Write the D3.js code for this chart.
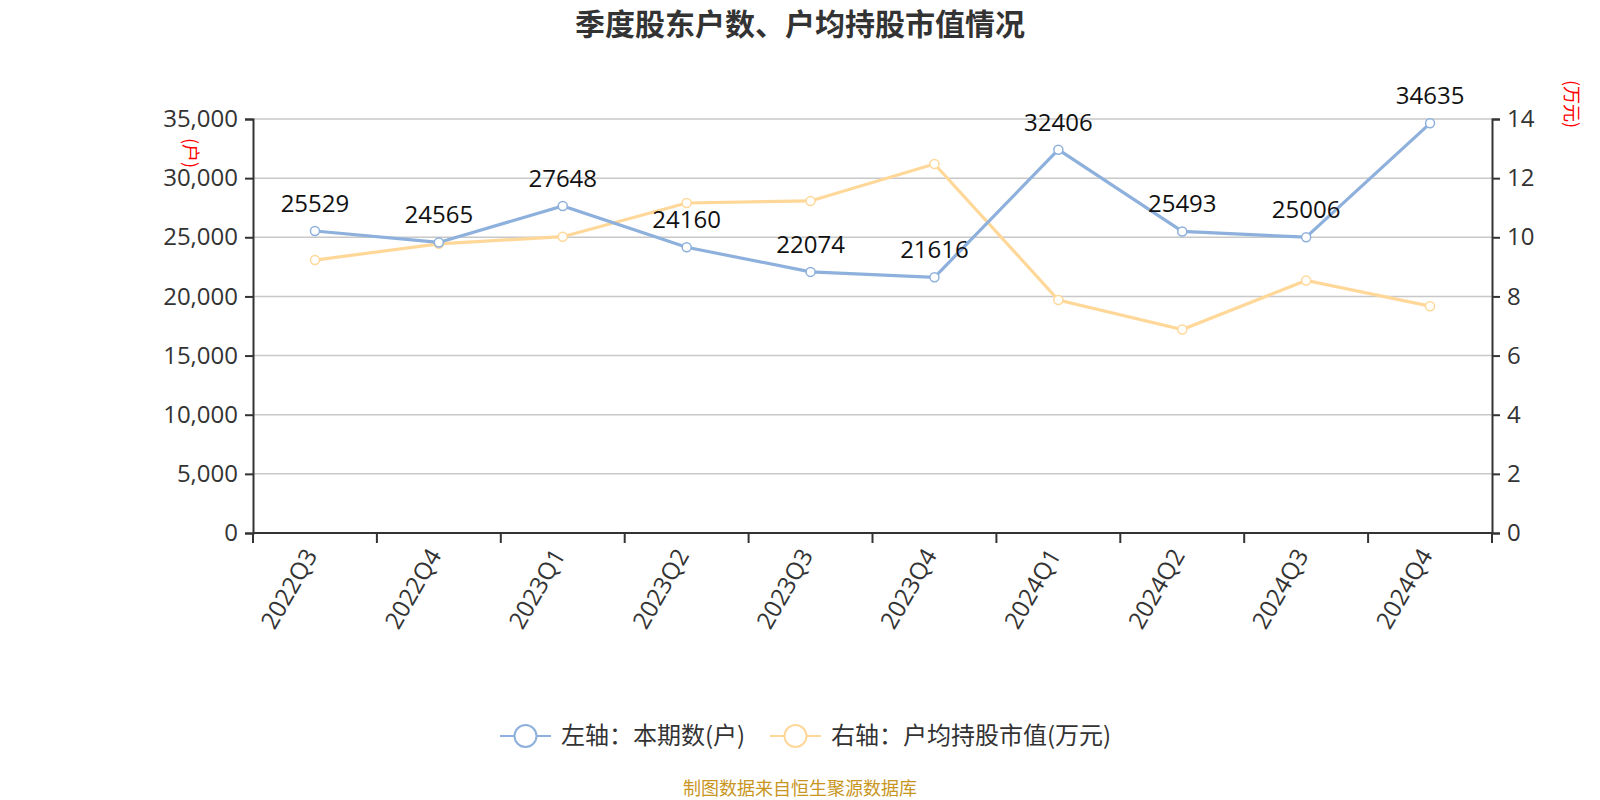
<!DOCTYPE html>
<html lang="zh">
<head>
<meta charset="UTF-8">
<title>季度股东户数、户均持股市值情况</title>
<script src="https://d3js.org/d3.v7.min.js"></script>
<style>
  body { margin: 0; background: #fff; }
  svg { display: block; font-family: "Open Sans", "Noto Sans CJK SC", sans-serif; }
</style>
</head>
<body>
<svg id="chart"></svg>
<script>
// data
const quarters = ["2022Q3", "2022Q4", "2023Q1", "2023Q2", "2023Q3", "2023Q4", "2024Q1", "2024Q2", "2024Q3", "2024Q4"];
const holders = [25529, 24565, 27648, 24160, 22074, 21616, 32406, 25493, 25006, 34635];
const avgValue = [9.23, 9.78, 10.02, 11.16, 11.23, 12.48, 7.88, 6.88, 8.54, 7.67];
const leftTicks = [0, 5000, 10000, 15000, 20000, 25000, 30000, 35000];
const rightTicks = [0, 2, 4, 6, 8, 10, 12, 14];

const width = 1600, height = 800;
const margin = { left: 253, right: 108, top: 119, bottom: 267 };
const blue = "#8eb0dc", orange = "#ffd899";

const svg = d3.select("#chart").attr("width", width).attr("height", height);

const x = d3.scaleBand().domain(quarters).range([margin.left, width - margin.right]);
const yL = d3.scaleLinear().domain([0, 35000]).range([height - margin.bottom, margin.top]);
const yR = d3.scaleLinear().domain([0, 14]).range([height - margin.bottom, margin.top]);

// title
svg.append("text")
    .attr("x", 800).attr("y", 35)
    .attr("text-anchor", "middle")
    .attr("font-size", 30).attr("font-weight", "bold")
    .attr("fill", "#333")
    .attr("font-family", "Noto Sans CJK SC")
    .text("季度股东户数、户均持股市值情况");

// grid
svg.append("g").selectAll("line")
    .data(leftTicks.slice(1))
    .join("line")
    .attr("x1", margin.left).attr("x2", width - margin.right)
    .attr("y1", d => yL(d)).attr("y2", d => yL(d))
    .attr("stroke", "#c8c8c8").attr("stroke-width", 1.5);

// left axis
const gL = svg.append("g")
    .attr("transform", `translate(${margin.left},0)`)
    .call(d3.axisLeft(yL).tickValues(leftTicks).tickFormat(d3.format(",")).tickSize(8).tickPadding(7));
// right axis
const gR = svg.append("g")
    .attr("transform", `translate(${width - margin.right},0)`)
    .call(d3.axisRight(yR).tickValues(rightTicks).tickSize(8).tickPadding(7));
// bottom axis, ticks at band boundaries
const gB = svg.append("g")
    .attr("transform", `translate(0,${height - margin.bottom})`)
    .call(d3.axisBottom(x).tickSize(0).tickPadding(0));

[gL, gR, gB].forEach(g => {
    g.select(".domain").attr("stroke", "#333").attr("stroke-width", 2);
    g.selectAll(".tick line").attr("stroke", "#333").attr("stroke-width", 2);
    g.selectAll(".tick text").attr("fill", "#333").attr("font-size", 24)
        .attr("font-family", "Open Sans, Noto Sans CJK SC");
});
gB.select(".domain").attr("d", `M${margin.left},0H${width - margin.right}`);
gB.selectAll(".tick text")
    .attr("text-anchor", "end")
    .attr("dy", "0.35em")
    .attr("transform", "translate(-4,18) rotate(-60)");
gB.append("g").selectAll("line")
    .data(d3.range(quarters.length + 1))
    .join("line")
    .attr("x1", i => margin.left + i * x.step()).attr("x2", i => margin.left + i * x.step())
    .attr("y1", 0).attr("y2", 10)
    .attr("stroke", "#333").attr("stroke-width", 2);

// axis names
svg.append("text")
    .attr("transform", `translate(184,153) rotate(90)`)
    .attr("text-anchor", "middle")
    .attr("font-size", 18).attr("fill", "red")
    .attr("font-family", "Noto Sans CJK SC")
    .text("(户)");
svg.append("text")
    .attr("transform", `translate(1565,104) rotate(90)`)
    .attr("text-anchor", "middle")
    .attr("font-size", 18).attr("fill", "red")
    .attr("font-family", "Noto Sans CJK SC")
    .text("(万元)");

const cx = d => x(d) + x.bandwidth() / 2;

// orange line (right axis)
svg.append("path")
    .datum(avgValue)
    .attr("fill", "none").attr("stroke", orange).attr("stroke-width", 3.2)
    .attr("d", d3.line().x((d, i) => cx(quarters[i])).y(d => yR(d)));
svg.append("g").selectAll("circle")
    .data(avgValue)
    .join("circle")
    .attr("cx", (d, i) => cx(quarters[i])).attr("cy", d => yR(d)).attr("r", 4.5)
    .attr("fill", "#fff").attr("stroke", orange).attr("stroke-width", 1.5);

// blue line (left axis)
svg.append("path")
    .datum(holders)
    .attr("fill", "none").attr("stroke", blue).attr("stroke-width", 3.2)
    .attr("d", d3.line().x((d, i) => cx(quarters[i])).y(d => yL(d)));
svg.append("g").selectAll("circle")
    .data(holders)
    .join("circle")
    .attr("cx", (d, i) => cx(quarters[i])).attr("cy", d => yL(d)).attr("r", 4.5)
    .attr("fill", "#fff").attr("stroke", blue).attr("stroke-width", 1.5);

// labels
svg.append("g").selectAll("text")
    .data(holders)
    .join("text")
    .attr("x", (d, i) => cx(quarters[i])).attr("y", d => yL(d) - 19)
    .attr("text-anchor", "middle")
    .attr("font-size", 24).attr("fill", "#111")
    .text(d => d);

// legend
const legend = [
    { name: "左轴：本期数(户)", color: blue, x: 500 },
    { name: "右轴：户均持股市值(万元)", color: orange, x: 770 }
];
const lg = svg.append("g").selectAll("g").data(legend).join("g")
    .attr("transform", d => `translate(${d.x},736)`);
lg.append("line").attr("x1", 0).attr("x2", 51).attr("stroke", d => d.color).attr("stroke-width", 2);
lg.append("circle").attr("cx", 25.5).attr("r", 11).attr("fill", "#fff")
    .attr("stroke", d => d.color).attr("stroke-width", 2);
lg.append("text").attr("x", 61).attr("dy", "0.35em")
    .attr("font-size", 24).attr("fill", "#333")
    .attr("font-family", "Noto Sans CJK SC")
    .text(d => d.name);

// source
svg.append("text")
    .attr("x", 800).attr("y", 795)
    .attr("text-anchor", "middle")
    .attr("font-size", 18).attr("fill", "#c8961e")
    .attr("font-family", "Noto Sans CJK SC")
    .text("制图数据来自恒生聚源数据库");
</script>
</body>
</html>
